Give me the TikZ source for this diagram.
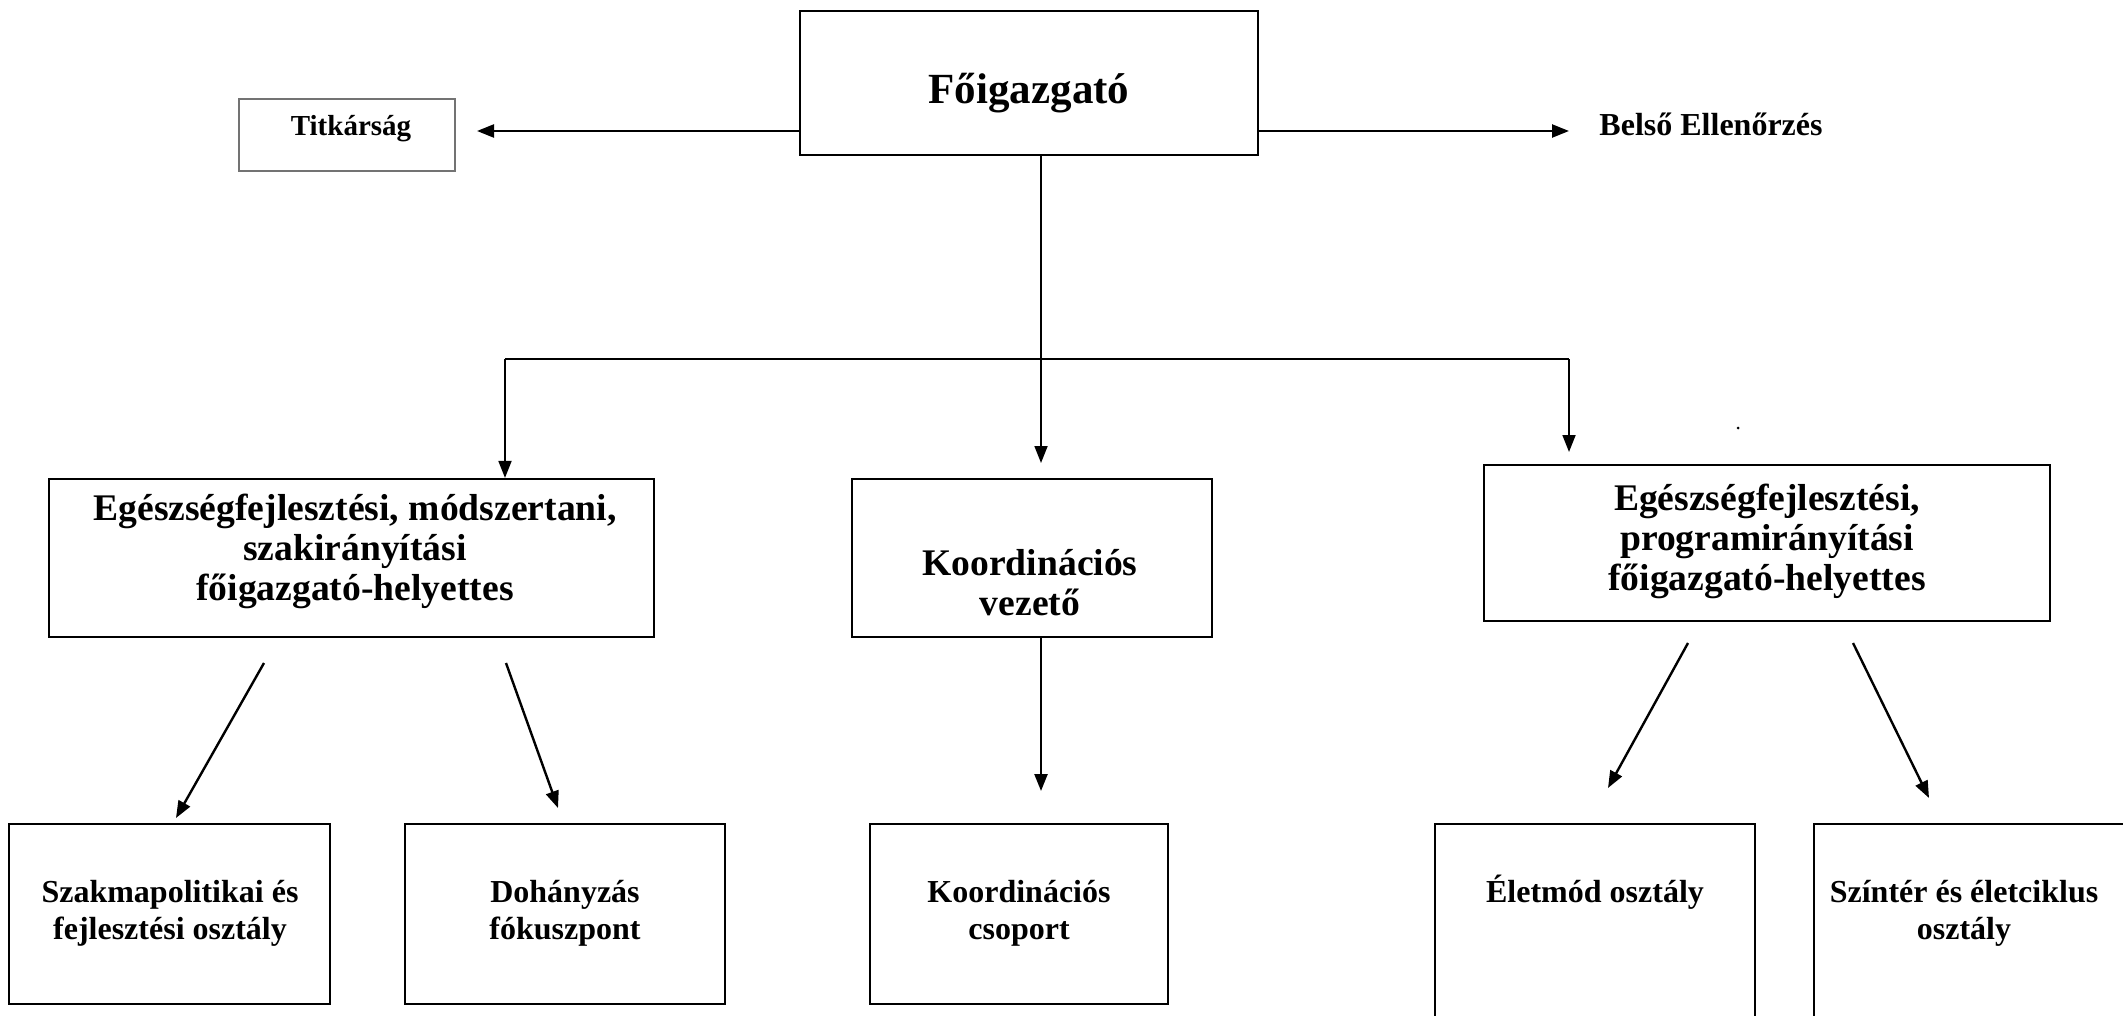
\documentclass[tikz,border=0pt]{standalone}
\usepackage{fontspec}
\setmainfont{Liberation Serif}
\usetikzlibrary{arrows.meta}
\tikzset{
  box/.style={draw=black, line width=2.2pt, minimum width=#1, inner sep=0pt},
  arr/.style={line width=2.4pt, -{Triangle[length=17pt,width=13pt]}},
  conn/.style={line width=2.4pt},
  bigtxt/.style={font=\fontsize{37.6pt}{40pt}\selectfont\bfseries, align=center, inner sep=0pt},
  smalltxt/.style={font=\fontsize{32pt}{37pt}\selectfont\bfseries, align=center, inner sep=0pt},
}
\begin{document}
\begin{tikzpicture}[x=1pt,y=-1pt]
\useasboundingbox[fill=white] (0,0) rectangle (2123,1016);
% boxes
\node[box=458pt, minimum height=144pt, line width=2.8pt] (fo) at (1029,83) {};
\node[box=216pt, minimum height=72pt, draw=black!55, line width=1.4pt] (tit) at (347,135) {};
\node[box=605pt, minimum height=158pt] (eg1) at (351.5,558) {};
\node[box=360pt, minimum height=158pt] (kv) at (1032,558) {};
\node[box=566pt, minimum height=156pt] (eg2) at (1767,543) {};
\node[box=321pt, minimum height=180pt] (b1) at (169.5,914) {};
\node[box=320pt, minimum height=180pt] (b2) at (565,914) {};
\node[box=298pt, minimum height=180pt] (b3) at (1019,914) {};
\node[box=320pt, minimum height=212pt] (b4) at (1595,930) {};
\node[box=320pt, minimum height=212pt] (b5) at (1974,930) {};
% texts
\node[font=\fontsize{43pt}{48pt}\selectfont\bfseries, anchor=base, inner sep=0pt] (tfo) at (1029,104) {Főigazgató};
\node[font=\fontsize{29pt}{34pt}\selectfont\bfseries, anchor=base, inner sep=0pt] (ttit) at (351,136) {Titkárság};
\node[font=\fontsize{32pt}{37pt}\selectfont\bfseries, anchor=base, inner sep=0pt] (bel) at (1711,136) {Belső Ellenőrzés};
\node[bigtxt] (teg1) at (355,551) {Egészségfejlesztési, módszertani,\\szakirányítási\\főigazgató-helyettes};
\node[bigtxt] (tkv) at (1030,583) {Koordinációs\\vezető};
\node[bigtxt] (teg2) at (1767,541) {Egészségfejlesztési,\\programirányítási\\főigazgató-helyettes};
\node[smalltxt] (tb1) at (170,913) {Szakmapolitikai és\\fejlesztési osztály};
\node[smalltxt] (tb2) at (565,913) {Dohányzás\\fókuszpont};
\node[smalltxt] (tb3) at (1019,913) {Koordinációs\\csoport};
\node[smalltxt, anchor=base] (tb4) at (1595,902) {Életmód osztály};
\node[smalltxt] (tb5) at (1964,913) {Színtér és életciklus\\osztály};
% coordinates
\coordinate (titTip) at (477,131);
\coordinate (belTip) at (1569,131);
\coordinate (bar) at (1041,359);
\coordinate (barL) at (505,359);
\coordinate (barR) at (1569,359);
\coordinate (kvTip) at (1041,463);
\coordinate (egTip) at (1569,452);
\coordinate (kvx) at (1041,0);
\coordinate (kcsTip) at (1041,791);
\coordinate (a1s) at (264,663);
\coordinate (a1e) at (176,818);
\coordinate (a2s) at (506,663);
\coordinate (a2e) at (558,808);
\coordinate (a3s) at (1688,643);
\coordinate (a3e) at (1608,788);
\coordinate (a4s) at (1853,643);
\coordinate (a4e) at (1929,798);
% connectors
\draw[arr] (fo.west |- titTip) -- (titTip);
\draw[arr] (fo.east |- belTip) -- (belTip);
\draw[conn, line width=1.8pt] (fo.south -| bar) -- (bar);
\draw[conn, line width=1.8pt] (barL) -- (barR);
\draw[arr, line width=1.8pt] (barL) -- (eg1.north -| barL);
\draw[arr, line width=1.8pt] (bar) -- (kvTip);
\draw[arr, line width=1.8pt] (barR) -- (egTip);
\draw[arr] (kv.south -| kvx) -- (kcsTip);
\draw[arr] (a1s) -- (a1e);
\draw[arr] (a2s) -- (a2e);
\draw[arr] (a3s) -- (a3e);
\draw[arr] (a4s) -- (a4e);
\fill (1738,428) circle (1.5pt);
\end{tikzpicture}
\end{document}
